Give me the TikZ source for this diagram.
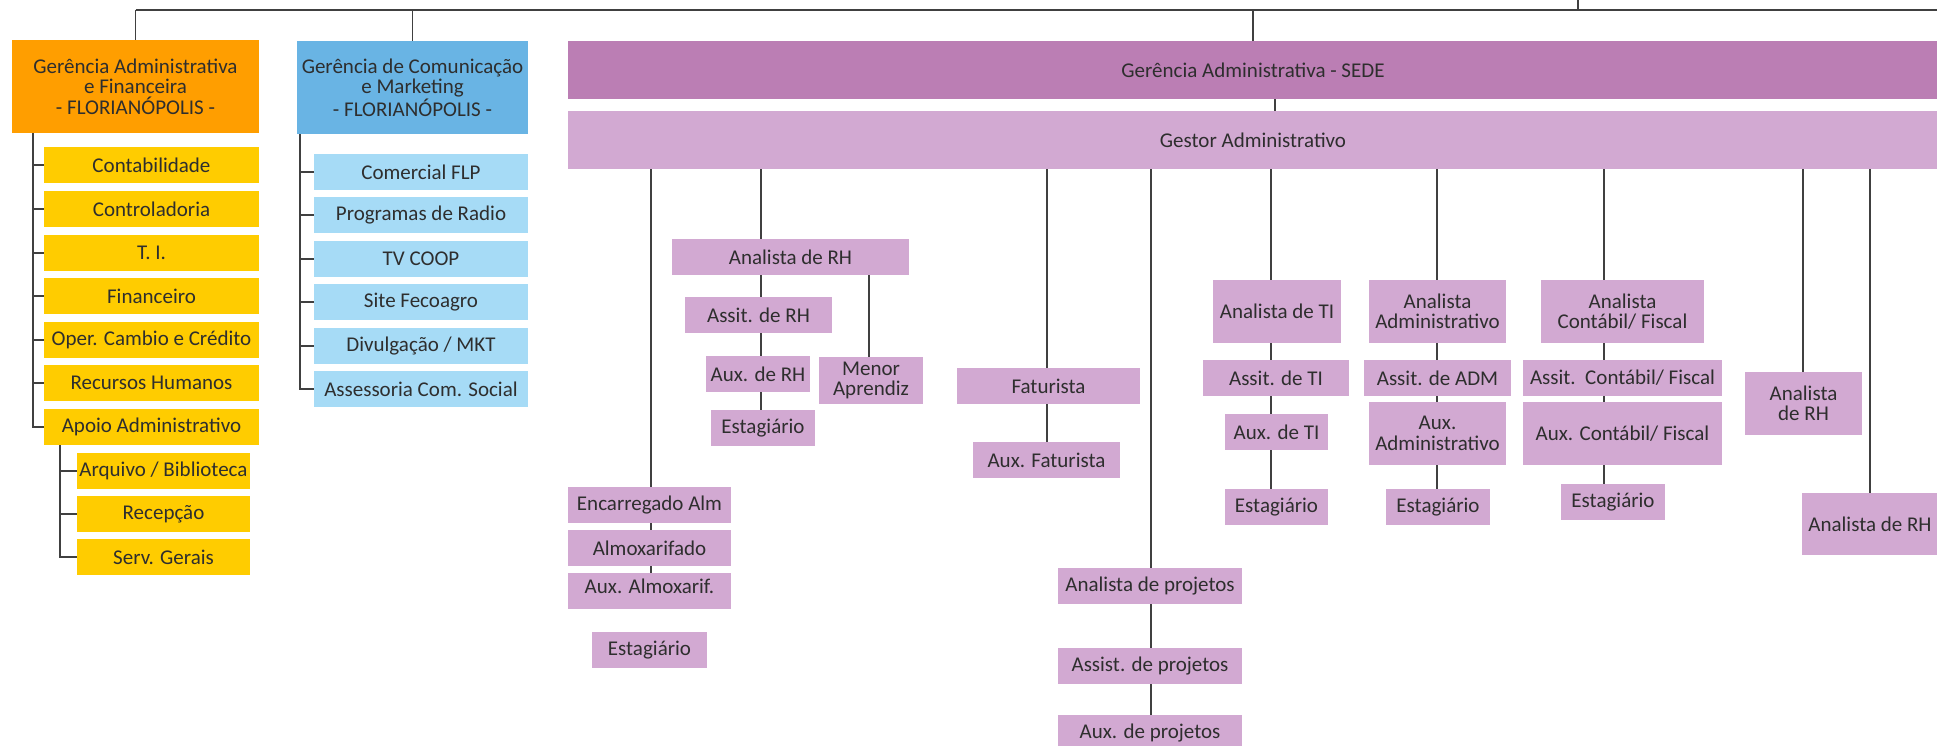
\documentclass[tikz,border=0pt]{standalone}
\usepackage{fontspec}
\setmainfont{Carlito}
\definecolor{orng}{HTML}{FF9E00}
\definecolor{yel}{HTML}{FFCC00}
\definecolor{bluh}{HTML}{69B4E4}
\definecolor{blul}{HTML}{A6DBF6}
\definecolor{purh}{HTML}{BB7EB4}
\definecolor{purl}{HTML}{D2A9D2}
\definecolor{txt}{HTML}{2E2E2E}
\definecolor{ln}{HTML}{404040}
\tikzset{
  bx/.style={rectangle, inner sep=0pt, align=center, text=txt, font=\fontsize{21}{20.5}\selectfont},
  sz/.style 2 args={minimum width=#1pt, minimum height=#2pt},
  yb/.style={bx, fill=yel, sz={215}{36}},
  ysb/.style={bx, fill=yel, sz={173}{36}},
  lb/.style={bx, fill=blul, sz={214}{36}},
  pb/.style={bx, fill=purl},
  tree/.style={draw=ln, line width=1.6pt},
  pl/.style={draw=ln, line width=1.3pt},
}
\begin{document}
\begin{tikzpicture}[x=1pt,y=-1pt]
\useasboundingbox (0,0) rectangle (1937,745);
% column coordinates
\coordinate (hl) at (0,10);
\coordinate (hr) at (1937,10);
\coordinate (topc) at (1578,0);
\coordinate (t1) at (33,0);
\coordinate (t2) at (60,0);
\coordinate (t3) at (300,0);
\coordinate (csg) at (1275,0);
\coordinate (c1) at (651,0);
\coordinate (c2) at (761,0);
\coordinate (c2b) at (869,0);
\coordinate (c3) at (1047,0);
\coordinate (c4) at (1151,0);
\coordinate (c5) at (1271,0);
\coordinate (c6) at (1437,0);
\coordinate (c7) at (1604,0);
\coordinate (c8) at (1803,0);
\coordinate (c9) at (1870,0);

% headers
\node[bx, fill=orng, sz={247}{93}] (ga) at (135.5,86.5) {Gerência Administrativa\\e Financeira\\- FLORIANÓPOLIS -};
\node[bx, fill=bluh, sz={231}{93}] (gc) at (412.5,87.5) {Gerência de Comunicação\\e Marketing\\- FLORIANÓPOLIS -};
\node[bx, fill=purh, sz={1370}{58}] (sede) at (1253,70) {Gerência Administrativa - SEDE};
\node[bx, fill=purl, sz={1370}{58}] (gestor) at (1253,140) {Gestor Administrativo};

% yellow
\node[yb] (cont) at (151.5,165) {Contabilidade};
\node[yb] (ctrl) at (151.5,209) {Controladoria};
\node[yb] (ti) at (151.5,253) {T. I.};
\node[yb] (fin) at (151.5,296) {Financeiro};
\node[yb] (oper) at (151.5,340) {Oper. Cambio e Crédito};
\node[yb] (rh) at (151.5,383) {Recursos Humanos};
\node[yb] (apoio) at (151.5,427) {Apoio Administrativo};
\node[ysb] (arq) at (163.5,471) {Arquivo / Biblioteca};
\node[ysb] (rec) at (163.5,514) {Recepção};
\node[ysb] (serv) at (163.5,557) {Serv. Gerais};

% blue
\node[lb] (com) at (421,172) {Comercial FLP};
\node[lb] (prog) at (421,215) {Programas de Radio};
\node[lb] (tv) at (421,259) {TV COOP};
\node[lb] (site) at (421,302) {Site Fecoagro};
\node[lb] (div) at (421,346) {Divulgação / MKT};
\node[lb] (ass) at (421,389) {Assessoria Com. Social};

% purple
\node[pb, sz={163}{36}] (encalm) at (649.5,505) {Encarregado Alm};
\node[pb, sz={163}{36}] (almox) at (649.5,548) {Almoxarifado};
\node[pb, sz={163}{36}] (auxalm) at (649.5,591) {};
\node[bx] (auxalmt) at (649.5,586) {Aux. Almoxarif.};
\node[pb, sz={115}{36}] (estalm) at (649.5,650) {Estagiário};

\node[pb, sz={237}{36}] (anrh) at (790.5,257) {Analista de RH};
\node[pb, sz={147}{36}] (assrh) at (758.5,315) {Assit. de RH};
\node[pb, sz={104}{36}] (auxrh) at (758,374) {Aux. de RH};
\node[pb, sz={104}{36}] (estrh) at (763,428) {Estagiário};
\node[pb, sz={104}{47}] (menor) at (871,380.5) {Menor\\Aprendiz};

\node[pb, sz={183}{36}] (fat) at (1048.5,386) {Faturista};
\node[pb, sz={147}{36}] (auxfat) at (1046.5,460) {Aux. Faturista};

\node[pb, sz={184}{36}] (anproj) at (1150,586) {Analista de projetos};
\node[pb, sz={184}{36}] (assproj) at (1150,666) {Assist. de projetos};
\node[pb, sz={184}{36}] (auxproj) at (1150,733) {Aux. de projetos};

\node[pb, sz={128}{63}] (anti) at (1277,311.5) {Analista de TI};
\node[pb, sz={146}{36}] (assti) at (1276,378) {Assit. de TI};
\node[pb, sz={103}{36}] (auxti) at (1276.5,432) {Aux. de TI};
\node[pb, sz={103}{36}] (estti) at (1276.5,507) {Estagiário};

\node[pb, sz={137}{63}] (anadm) at (1437.5,311.5) {Analista\\Administrativo};
\node[pb, sz={147}{36}] (assadm) at (1437.5,378) {Assit. de ADM};
\node[pb, sz={137}{63}] (auxadm) at (1437.5,433.5) {Aux.\\Administrativo};
\node[pb, sz={104}{36}] (estadm) at (1438,507) {Estagiário};

\node[pb, sz={163}{63}] (ancont) at (1622.5,311.5) {Analista\\Contábil/ Fiscal};
\node[pb, sz={199}{36}] (asscont) at (1622.5,378) {Assit.\ \ Contábil/ Fiscal};
\node[pb, sz={199}{63}] (auxcont) at (1622.5,433.5) {Aux. Contábil/ Fiscal};
\node[pb, sz={104}{36}] (estcont) at (1613,502) {Estagiário};

\node[pb, sz={117}{63}] (anrh2) at (1803.5,403.5) {Analista\\de RH};
\node[pb, sz={136}{62}] (anrh3) at (1870,524) {Analista de RH};

% top connectors
\draw[tree] (ga.north |- hl) -- (hr);
\draw[tree] (ga.north |- hl) -- (ga.north);
\draw[tree] (gc.north |- hl) -- (gc.north);
\draw[pl] (sede.north |- hl) -- (sede.north);
\draw[pl] (topc) -- (topc |- hl);
\draw[pl] (sede.south -| csg) -- (gestor.north -| csg);

% yellow tree
\draw[tree] (ga.south -| t1) |- (apoio.west);
\foreach \n in {cont,ctrl,ti,fin,oper,rh} \draw[tree] (\n.west -| t1) -- (\n.west);
\draw[tree] (apoio.south -| t2) |- (serv.west);
\foreach \n in {arq,rec} \draw[tree] (\n.west -| t2) -- (\n.west);

% blue tree
\draw[tree] (gc.south -| t3) |- (ass.west);
\foreach \n in {com,prog,tv,site,div} \draw[tree] (\n.west -| t3) -- (\n.west);

% purple connectors
\draw[pl] (gestor.south -| c1) -- (encalm.north -| c1);
\draw[pl] (encalm.south -| c1) -- (almox.north -| c1);
\draw[pl] (almox.south -| c1) -- (auxalm.north -| c1);

\draw[pl] (gestor.south -| c2) -- (anrh.north -| c2);
\draw[pl] (anrh.south -| c2) -- (assrh.north -| c2);
\draw[pl] (assrh.south -| c2) -- (auxrh.north -| c2);
\draw[pl] (auxrh.south -| c2) -- (estrh.north -| c2);
\draw[pl] (anrh.south -| c2b) -- (menor.north -| c2b);

\draw[pl] (gestor.south -| c3) -- (fat.north -| c3);
\draw[pl] (fat.south -| c3) -- (auxfat.north -| c3);

\draw[pl] (gestor.south -| c4) -- (anproj.north -| c4);
\draw[pl] (anproj.south -| c4) -- (assproj.north -| c4);
\draw[pl] (assproj.south -| c4) -- (auxproj.north -| c4);

\draw[pl] (gestor.south -| c5) -- (anti.north -| c5);
\draw[pl] (anti.south -| c5) -- (assti.north -| c5);
\draw[pl] (assti.south -| c5) -- (auxti.north -| c5);
\draw[pl] (auxti.south -| c5) -- (estti.north -| c5);

\draw[pl] (gestor.south -| c6) -- (anadm.north -| c6);
\draw[pl] (anadm.south -| c6) -- (assadm.north -| c6);
\draw[pl] (assadm.south -| c6) -- (auxadm.north -| c6);
\draw[pl] (auxadm.south -| c6) -- (estadm.north -| c6);

\draw[pl] (gestor.south -| c7) -- (ancont.north -| c7);
\draw[pl] (ancont.south -| c7) -- (asscont.north -| c7);
\draw[pl] (asscont.south -| c7) -- (auxcont.north -| c7);
\draw[pl] (auxcont.south -| c7) -- (estcont.north -| c7);

\draw[pl] (gestor.south -| c8) -- (anrh2.north -| c8);
\draw[pl] (gestor.south -| c9) -- (anrh3.north -| c9);
\end{tikzpicture}
\end{document}
